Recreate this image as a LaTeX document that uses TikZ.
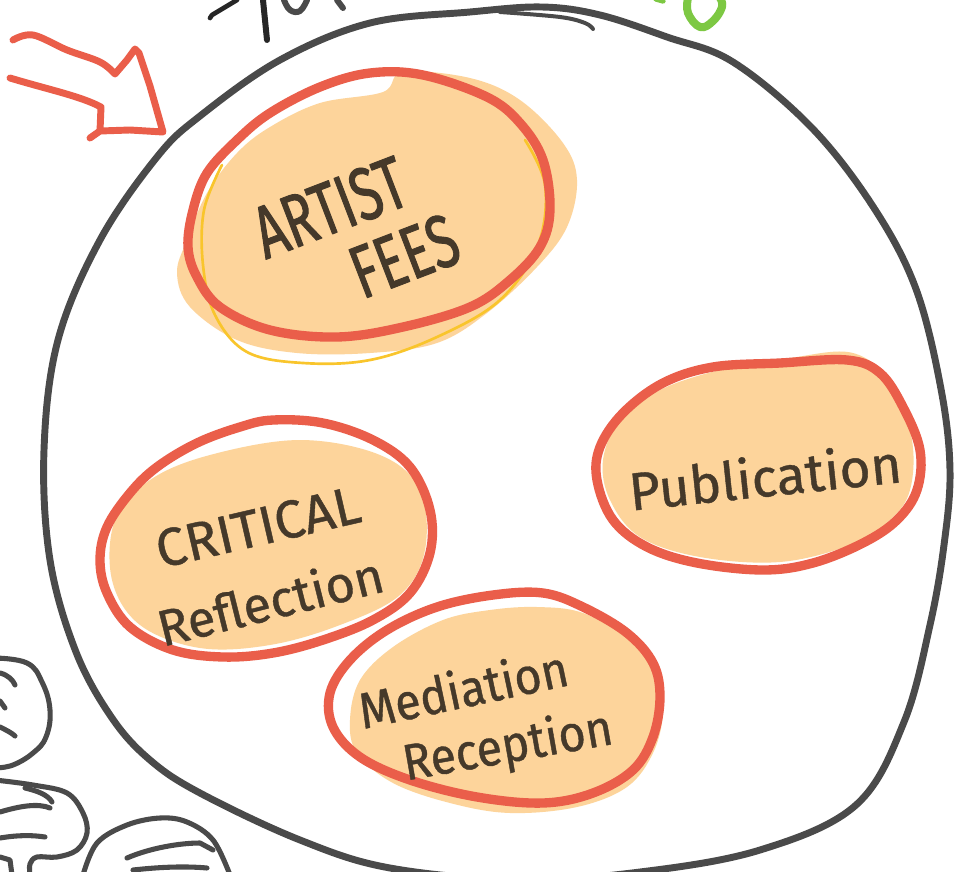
\documentclass[tikz,border=0pt]{standalone}
\usepackage{fontspec}
\newfontfamily\handA[FakeStretch=0.7,FakeBold=1.2]{Fira Sans}
\newfontfamily\handB[FakeBold=0.8]{Fira Sans}
\newfontfamily\handC[FakeStretch=0.92,FakeBold=0.8]{Fira Sans}
\definecolor{sketchgrey}{HTML}{4A4A4A}
\definecolor{markred}{HTML}{EA5E4A}
\definecolor{blobfill}{HTML}{FDD49B}
\definecolor{inkbrown}{HTML}{45392A}
\definecolor{hiyellow}{HTML}{F9C52C}
\definecolor{hlgreen}{HTML}{7DC843}
\begin{document}
\begin{tikzpicture}[x=0.75pt,y=-0.75pt,line cap=round,line join=round]
\tikzset{
  bigring/.style={draw=sketchgrey,line width=5.2pt},
  greystroke/.style={draw=sketchgrey,line width=3.8pt},
  redring/.style={draw=markred,line width=7pt},
  redarrow/.style={draw=markred,line width=5.2pt},
  blob/.style={fill=blobfill},
  yellowring/.style={draw=hiyellow,line width=2pt},
  inkstroke/.style={draw=black!85,line width=4.5pt},
  greenstroke/.style={draw=hlgreen,line width=6pt},
  handtext/.style={text=inkbrown,inner sep=0pt,align=center}
}
\useasboundingbox (0,0) rectangle (958,872);
\clip (0,0) rectangle (958,872);
\fill[white] (0,0) rectangle (958,872);

% big circle
\draw[bigring] plot[smooth cycle,tension=0.6] coordinates {
 (470,12) (542,7) (600,15) (667,37) (733,62) (812,128) (874,208) (916,289)
 (941,389) (950,470) (944,545) (930,625) (904,722) (856,805) (760,850)
 (640,872) (520,880) (390,868) (300,840) (200,793) (150,760) (112,718)
 (76,652) (50,560) (44,450) (58,340) (100,240) (157,157) (200,116)
 (280,60) (370,23)};
\draw[sketchgrey,line width=3pt] plot[smooth,tension=0.6] coordinates {(500,12) (560,17) (585,23) (593,29)};

% top handwriting fragments
\draw[inkstroke,line width=3.5pt] (210,18) -- (212,15) -- (237,0);
\draw[inkstroke] (263,0) -- (267,40);
\draw[sketchgrey,line width=4.5pt] plot[smooth,tension=0.7] coordinates {(284,0) (290,10) (300,11) (307,0)};
\draw[sketchgrey,line width=4.5pt] (337,0) -- (343,8);
\draw[greenstroke] plot[smooth,tension=0.7] coordinates {(688,-2) (688,13) (700,27) (713,21) (722,7) (720,-2)};
\draw[greenstroke,line width=4pt] (656,-1) -- (663,1);

% red arrow
\draw[redarrow] plot[smooth,tension=0.6] coordinates {(13,40) (33,35) (67,50) (100,62) (115,74)}
  -- (127,60) -- (135,49) -- (139,53) -- (150,86) -- (163,132) -- (130,130) -- (100,131) -- (90,138);
\draw[redarrow] (100,131) -- (101,107) .. controls (80,96) and (50,90) .. (10,78);

% bottom-left grey sketches
\draw[greystroke] plot[smooth,tension=0.7] coordinates {(-5,658) (27,663) (42,682) (50,710) (46,737) (33,753) (13,765) (-5,768)};
\draw[greystroke] (0,673) .. controls (8,675) and (13,680) .. (15,685);
\draw[greystroke] (0,701) -- (5,708);
\draw[greystroke] (0,727) .. controls (6,730) and (12,733) .. (15,736);
\draw[greystroke] plot[smooth,tension=0.6] coordinates {(-5,780) (33,785) (67,793) (83,813) (87,833) (77,850) (57,857) (37,857) (30,864) (30,875)};
\draw[greystroke] (25,788) .. controls (38,791) and (48,795) .. (52,802);
\draw[greystroke] (0,812) .. controls (20,806) and (38,803) .. (50,808);
\draw[greystroke] (0,838) .. controls (18,835) and (32,835) .. (45,837);
\draw[greystroke] (0,857) -- (10,860) -- (12,875);
\draw[greystroke] plot[smooth,tension=0.6] coordinates {(83,875) (97,843) (127,825) (160,818) (187,822) (213,840) (230,875)};
\draw[greystroke] (127,858) .. controls (150,848) and (180,843) .. (200,843) -- (213,850);
\draw[greystroke] (133,870) .. controls (160,867) and (185,866) .. (207,868);

% bubble: ARTIST FEES
\fill[blob] plot[smooth cycle,tension=0.6] coordinates {
 (403,72) (470,78) (520,100) (563,143) (577,180) (567,227) (537,267)
 (487,313) (437,343) (370,353) (297,353) (237,340) (190,307) (177,273)
 (187,240) (207,193) (237,153) (270,127) (320,103) (383,92)};
\draw[yellowring] plot[smooth,tension=0.6] coordinates {
 (222,165) (204,210) (203,265) (215,315) (247,352) (303,363) (370,360) (437,337)
 (500,300) (538,245) (545,185) (525,140)};
\draw[redring] plot[smooth cycle,tension=0.6] coordinates {
 (423,75) (487,97) (520,123) (543,160) (550,210) (540,247) (510,280)
 (470,307) (403,327) (337,337) (270,330) (220,307) (197,277) (188,247)
 (193,210) (207,173) (237,140) (270,113) (320,87) (370,73)};
\node[handtext,rotate=21,align=left,font={\handA\fontsize{56}{54}\selectfont}] (artistfees) at (356,236)
  {ARTIST\\\hspace*{57pt}FEES};

% bubble: Publication
\fill[blob] plot[smooth cycle,tension=0.6] coordinates {
 (853,353) (893,385) (912,440) (910,490) (890,520) (850,545) (780,562)
 (700,557) (640,537) (610,500) (603,460) (620,420) (660,390) (720,370) (790,358)};
\draw[redring] plot[smooth cycle,tension=0.6] coordinates {
 (847,360) (880,373) (903,407) (920,450) (917,490) (897,520) (863,543)
 (813,563) (763,570) (697,563) (647,547) (613,520) (597,480) (600,447)
 (623,413) (663,383) (713,367) (780,363)};
\node[handtext,rotate=6,font={\handB\fontsize{40}{40}\selectfont}] (publication) at (765,476) {Publication};

% bubble: CRITICAL Reflection
\fill[blob] plot[smooth cycle,tension=0.6] coordinates {
 (300,440) (380,455) (420,490) (425,550) (400,595) (340,625) (270,645)
 (200,648) (140,625) (112,580) (115,520) (150,480) (210,455)};
\draw[redring] plot[smooth cycle,tension=0.6] coordinates {
 (323,423) (373,440) (410,467) (430,510) (430,553) (410,593) (373,620)
 (323,640) (273,653) (223,657) (173,650) (130,627) (107,593) (100,560)
 (107,527) (130,493) (157,467) (197,443) (240,427) (273,420)};
\node[handtext,rotate=13,font={\handB\fontsize{40}{40}\selectfont}] (critical) at (258,527) {CRITICAL};
\node[handtext,rotate=14,font={\handB\fontsize{38}{38}\selectfont}] (reflection) at (270,600) {Reflection};

% bubble: Mediation Reception
\fill[blob] plot[smooth cycle,tension=0.6] coordinates {
 (537,607) (583,613) (630,640) (657,677) (663,713) (653,753) (627,787)
 (577,807) (510,813) (450,803) (393,783) (357,753) (350,720) (360,680)
 (393,647) (443,620) (490,610)};
\draw[redring] plot[smooth cycle,tension=0.6] coordinates {
 (583,607) (627,633) (653,663) (660,697) (653,737) (633,770) (593,793)
 (543,803) (477,797) (410,780) (360,757) (333,727) (330,693) (350,660)
 (387,630) (437,607) (493,595) (543,593)};
\node[handtext,rotate=12,font={\handC\fontsize{38}{38}\selectfont}] (mediation) at (463,688) {Mediation};
\node[handtext,rotate=10,font={\handC\fontsize{38}{38}\selectfont}] (reception) at (508,748) {Reception};
\end{tikzpicture}
\end{document}
